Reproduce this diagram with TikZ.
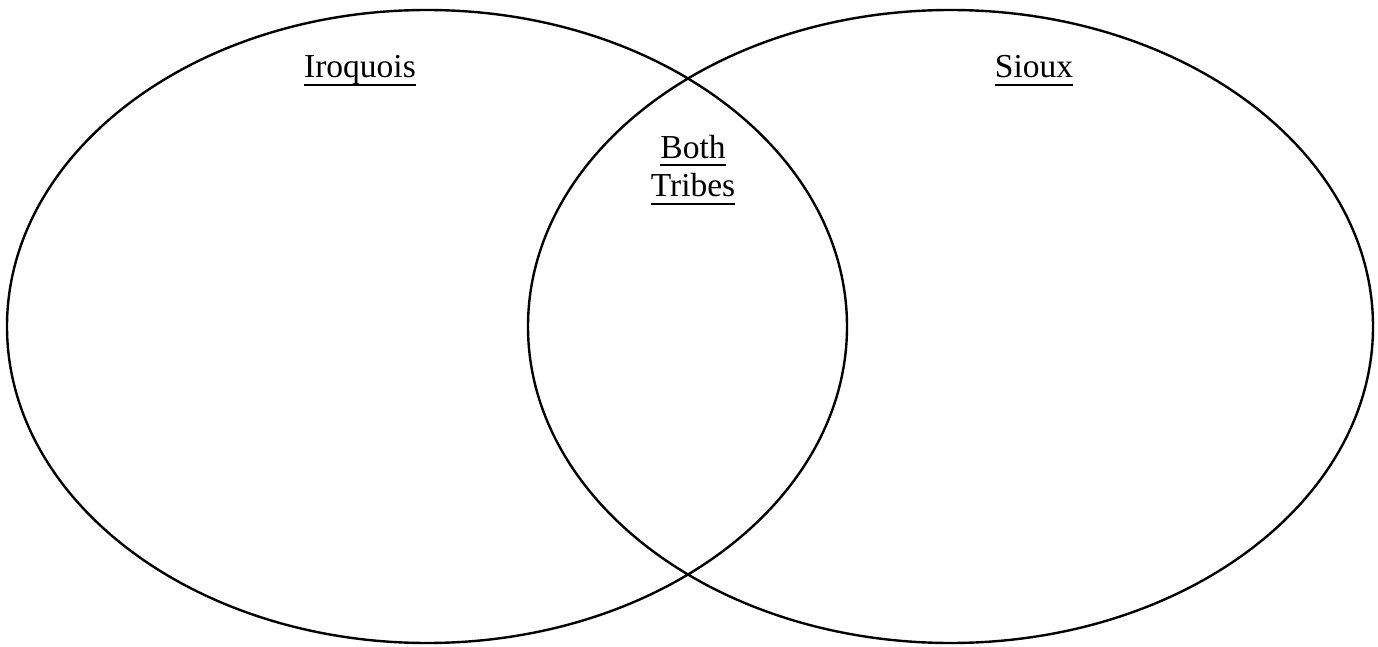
\documentclass[tikz,border=0pt]{standalone}
\usepackage{fontspec}
\setmainfont{Liberation Serif}
\usepackage{tikz}

\newsavebox\undlbox
\newcommand\undl[1]{\sbox\undlbox{#1}\rlap{\rule[-8pt]{\wd\undlbox}{2pt}}\usebox\undlbox}

\begin{document}
\begin{tikzpicture}[x=1pt, y=1pt,
  ring/.style={line width=2.4pt},
  tribe/.style={font=\fontsize{33.5}{38.5}\selectfont, inner sep=0pt, anchor=base, align=center}]
\useasboundingbox (0,0) rectangle (1378,646);

% the two circles
\draw[ring] (427,319.5) ellipse [x radius=420, y radius=316.5];
\draw[ring] (950.5,319.5) ellipse [x radius=422.5, y radius=316.5];

% headings
\node[tribe] (iroq) at (360,568) {\undl{Iroquois}};
\node[tribe] (sioux) at (1034,568) {\undl{Sioux}};
\node[tribe] (both) at (693,449) {\undl{Both}\\\undl{Tribes}};
\end{tikzpicture}
\end{document}
